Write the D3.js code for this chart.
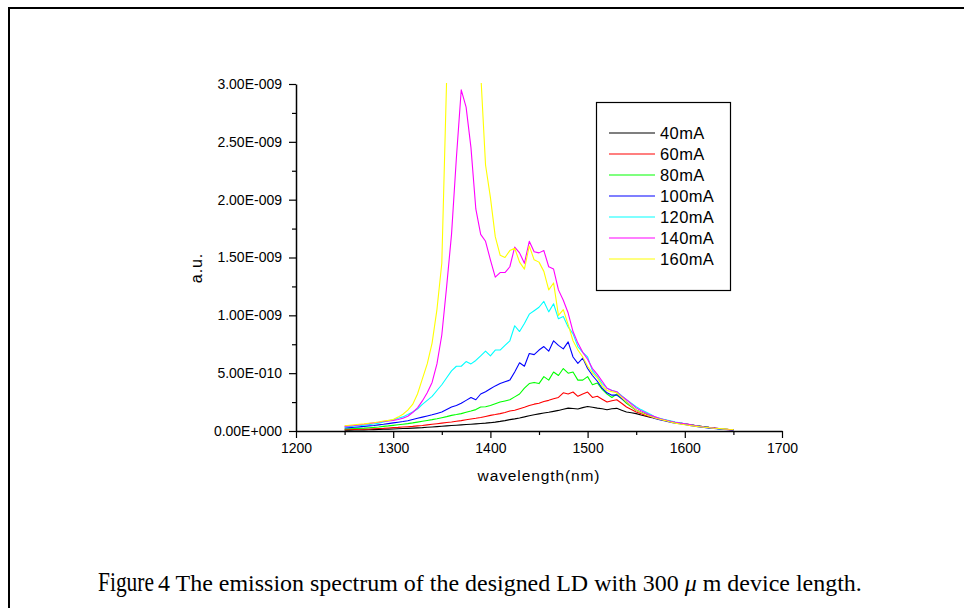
<!DOCTYPE html>
<html>
<head>
<meta charset="utf-8">
<title>emission spectrum</title>
<script src="https://d3js.org/d3.v7.min.js"></script>
<style>
  body { margin: 0; background: #fff; }
  svg { display: block; }
</style>
</head>
<body>
<div id="chart"></div>
<script>

// wavelength grid (nm), read every 5 nm
var wavelength = [1250,1255,1260,1265,1270,1275,1280,1285,1290,1295,
  1300,1305,1310,1315,1320,1325,1330,1335,1340,1345,
  1350,1355,1360,1365,1370,1375,1380,1385,1390,1395,
  1400,1405,1410,1415,1420,1425,1430,1435,1440,1445,
  1450,1455,1460,1465,1470,1475,1480,1485,1490,1495,
  1500,1505,1510,1515,1520,1525,1530,1535,1540,1545,
  1550,1555,1560,1565,1570,1575,1580,1585,1590,1595,
  1600,1605,1610,1615,1620,1625,1630,1635,1640,1645,1650];

// intensities in units of 1e-10 a.u.
var UNIT = 1e-10;
var s40 = [0.06,0.07,0.08,0.09,0.10,0.11,0.12,0.13,0.15,0.16,
  0.17,0.19,0.21,0.23,0.25,0.27,0.29,0.32,0.35,0.38,
  0.41,0.44,0.47,0.50,0.53,0.56,0.59,0.62,0.65,0.68,
  0.72,0.77,0.83,0.90,0.98,1.05,1.13,1.22,1.32,1.40,
  1.48,1.55,1.62,1.70,1.78,1.88,1.98,1.95,1.90,2.02,
  2.12,2.05,1.98,1.92,1.84,1.92,1.96,1.80,1.64,1.58,
  1.50,1.38,1.27,1.18,1.10,1.00,0.92,0.82,0.74,0.68,
  0.63,0.56,0.49,0.43,0.37,0.31,0.26,0.21,0.17,0.13,0.10];
var s60 = [0.12,0.13,0.14,0.15,0.16,0.17,0.19,0.21,0.23,0.26,
  0.29,0.31,0.34,0.37,0.40,0.44,0.48,0.53,0.58,0.63,
  0.68,0.73,0.78,0.84,0.90,0.97,1.04,1.10,1.17,1.26,
  1.35,1.42,1.50,1.60,1.73,1.80,1.93,2.05,2.20,2.32,
  2.40,2.55,2.65,2.78,2.90,3.30,3.20,3.37,3.00,3.20,
  3.37,2.90,3.00,2.75,2.50,2.62,2.70,2.40,2.07,1.85,
  1.64,1.50,1.35,1.22,1.10,1.00,0.90,0.82,0.74,0.66,
  0.60,0.53,0.46,0.40,0.35,0.29,0.24,0.19,0.15,0.12,0.10];
var s80 = [0.17,0.19,0.21,0.23,0.25,0.28,0.31,0.35,0.40,0.44,
  0.49,0.54,0.59,0.64,0.70,0.77,0.84,0.91,0.98,1.06,
  1.15,1.24,1.35,1.42,1.50,1.62,1.73,1.85,2.07,2.10,
  2.20,2.35,2.50,2.60,2.70,2.95,3.20,3.70,4.10,4.20,
  4.10,4.70,4.40,5.10,4.80,5.40,5.00,5.10,4.40,4.40,
  4.70,4.00,4.15,3.60,3.20,2.90,3.20,2.80,2.40,2.10,
  1.80,1.62,1.44,1.30,1.16,1.04,0.94,0.85,0.76,0.68,
  0.61,0.54,0.47,0.41,0.35,0.29,0.24,0.20,0.16,0.13,0.11];
var s100 = [0.26,0.29,0.32,0.36,0.40,0.44,0.48,0.53,0.58,0.64,
  0.70,0.76,0.82,0.89,1.00,1.10,1.20,1.30,1.40,1.52,
  1.64,1.85,2.07,2.20,2.40,2.65,2.90,2.70,3.20,3.40,
  3.66,3.90,4.10,4.25,4.40,5.10,5.90,5.60,6.70,6.60,
  7.00,7.30,6.90,7.80,7.40,7.10,7.70,6.40,5.85,6.30,
  5.40,4.80,4.30,3.70,3.30,3.10,3.10,2.80,2.50,2.15,
  1.80,1.60,1.42,1.26,1.07,0.96,0.86,0.76,0.68,0.62,
  0.56,0.48,0.41,0.35,0.30,0.25,0.21,0.17,0.14,0.11,0.09];
var s120 = [0.35,0.38,0.42,0.46,0.50,0.55,0.61,0.68,0.78,0.88,
  0.98,1.10,1.22,1.42,1.64,1.90,2.30,2.65,3.00,3.50,
  4.00,4.60,5.20,5.60,5.60,6.00,5.80,6.10,6.50,6.90,
  6.50,7.00,7.00,7.40,7.80,9.10,8.60,9.30,10.1,10.4,
  10.7,11.2,10.3,11.0,9.70,9.90,9.00,8.40,7.30,6.80,
  6.40,5.20,4.70,4.10,3.70,3.50,3.40,3.05,2.70,2.40,
  2.10,1.85,1.64,1.42,1.20,1.08,0.98,0.88,0.78,0.70,
  0.62,0.54,0.47,0.40,0.34,0.29,0.24,0.20,0.16,0.13,0.11];
var s140 = [0.40,0.44,0.48,0.53,0.58,0.64,0.70,0.76,0.82,0.87,
  0.92,1.00,1.10,1.28,1.60,2.00,2.60,3.30,4.20,5.80,
  8.30,12.5,17.0,23.6,29.5,28.0,24.5,19.2,17.0,16.4,
  14.8,13.3,13.7,13.7,14.2,15.9,15.4,14.5,16.4,15.5,
  15.4,15.6,14.2,14.0,12.2,11.3,10.2,8.60,7.60,6.80,
  6.20,5.40,4.90,4.30,3.70,3.50,3.40,3.00,2.70,2.35,
  2.00,1.75,1.55,1.35,1.20,1.05,0.95,0.85,0.75,0.68,
  0.62,0.55,0.48,0.41,0.35,0.30,0.25,0.21,0.17,0.14,0.12];
var s160 = [0.46,0.50,0.54,0.58,0.62,0.67,0.72,0.78,0.86,0.92,
  1.00,1.20,1.45,1.80,2.30,3.20,4.50,5.80,7.60,10.5,
  14.5,30.5,38.0,40.0,40.0,40.0,40.0,38.0,31.0,23.0,
  20.2,16.8,15.2,15.0,15.6,15.8,14.6,14.0,16.0,14.8,
  14.6,13.8,12.2,12.8,10.0,10.5,9.20,7.80,7.00,6.40,
  5.60,5.00,4.60,3.90,3.50,3.40,3.30,2.90,2.50,2.15,
  1.80,1.60,1.40,1.25,1.10,1.00,0.90,0.78,0.68,0.60,
  0.54,0.48,0.42,0.37,0.32,0.28,0.24,0.21,0.18,0.15,0.13];

var seriesNames = ["40mA","60mA","80mA","100mA","120mA","140mA","160mA"];
var seriesValues = [s40, s60, s80, s100, s120, s140, s160];
var colors = ["#000000","#ff0000","#00ff00","#0000ff","#00ffff","#ff00ff","#ffff00"];

var xTicks = [1200,1300,1400,1500,1600,1700];
var xMinor = [1250,1350,1450,1550,1650];
var yTicks = [0,5,10,15,20,25,30];          // x 1e-10
var yMinor = [2.5,7.5,12.5,17.5,22.5,27.5];

var width = 964, height = 608;

var svg = d3.select("#chart").append("svg")
  .attr("width", width)
  .attr("height", height);

// page frame (left and top edge only)
svg.append("path")
  .attr("d", "M9,608 L9,8 L964,8")
  .attr("fill", "none")
  .attr("stroke", "#000")
  .attr("stroke-width", 2);

var x = d3.scaleLinear().domain([1200, 1700]).range([296, 782]);
var y = d3.scaleLinear().domain([0, 30]).range([431, 84]);

// 1.00E-009 style labels
function sci(v) {
  if (v === 0) return "0.00E+000";
  var p = Math.floor(Math.log10(v));
  var m = v / Math.pow(10, p);
  var e = p + Math.round(Math.log10(UNIT));
  return m.toFixed(2) + "E" + (e < 0 ? "-" : "+") + String(Math.abs(e)).padStart(3, "0");
}

var axisFont = "'Liberation Sans', Arial, sans-serif";

// minor ticks
svg.append("g")
  .attr("transform", "translate(0,431)")
  .call(d3.axisBottom(x).tickValues(xMinor).tickSize(4).tickFormat(""))
  .call(function(g) { g.select(".domain").remove(); });
svg.append("g")
  .attr("transform", "translate(296,0)")
  .call(d3.axisLeft(y).tickValues(yMinor).tickSize(4).tickFormat(""))
  .call(function(g) { g.select(".domain").remove(); });

// clip for the curves
svg.append("clipPath").attr("id", "plotclip")
  .append("rect").attr("x", 296).attr("y", 83).attr("width", 486).attr("height", 348);

var line = d3.line()
  .x(function(d) { return x(d[0]); })
  .y(function(d) { return y(d[1]); });

var curves = svg.append("g").attr("clip-path", "url(#plotclip)");
seriesValues.forEach(function(vals, i) {
  var pts = wavelength.map(function(w, j) { return [w, vals[j]]; });
  curves.append("path")
    .datum(pts)
    .attr("d", line)
    .attr("fill", "none")
    .attr("stroke", colors[i])
    .attr("stroke-width", 1.1)
    .attr("stroke-linejoin", "round");
});

// major axes
var xAxis = svg.append("g")
  .attr("transform", "translate(0,431)")
  .call(d3.axisBottom(x).tickValues(xTicks).tickSize(7).tickSizeOuter(0).tickPadding(5).tickFormat(d3.format("d")));
var yAxis = svg.append("g")
  .attr("transform", "translate(296,0)")
  .call(d3.axisLeft(y).tickValues(yTicks).tickSize(7).tickSizeOuter(0).tickPadding(7).tickFormat(sci));

[xAxis, yAxis].forEach(function(g) {
  g.selectAll("text").attr("font-family", axisFont).attr("font-size", 14).attr("fill", "#000");
  g.select(".domain").attr("stroke-width", 1.5);
  g.attr("font-family", null).attr("font-size", null);
});
svg.selectAll(".tick line").attr("stroke", "#000").attr("stroke-width", 1.2);

// axis titles
svg.append("text")
  .attr("transform", "translate(202,268) rotate(-90)")
  .attr("text-anchor", "middle")
  .attr("font-family", axisFont)
  .attr("font-size", 16)
  .attr("letter-spacing", 0.9)
  .text("a.u.");

svg.append("text")
  .attr("x", 539)
  .attr("y", 481)
  .attr("text-anchor", "middle")
  .attr("font-family", axisFont)
  .attr("font-size", 15.5)
  .attr("letter-spacing", 0.9)
  .text("wavelength(nm)");

// legend
var legend = svg.append("g");
legend.append("rect")
  .attr("x", 596.5).attr("y", 102.5)
  .attr("width", 134).attr("height", 188)
  .attr("fill", "none")
  .attr("stroke", "#000")
  .attr("stroke-width", 1.2);

seriesNames.forEach(function(name, i) {
  var ly = 133 + i * 21;
  legend.append("line")
    .attr("x1", 609).attr("x2", 655)
    .attr("y1", ly).attr("y2", ly)
    .attr("stroke", colors[i])
    .attr("stroke-width", 1.1);
  legend.append("text")
    .attr("x", 660).attr("y", ly)
    .attr("dy", "0.36em")
    .attr("font-family", axisFont)
    .attr("font-size", 16.5)
    .attr("letter-spacing", 0.4)
    .text(name);
});

// caption, fitted to the width it has in the figure
var serif = "'Liberation Serif', 'Times New Roman', serif";
function fitText(node, x0, baseline, targetWidth) {
  var w = node.node().getBBox().width;
  node.attr("transform", "translate(" + x0 + "," + baseline + ") scale(" + (targetWidth / w) + ",1)");
}

var fig = svg.append("text")
  .attr("font-family", serif)
  .attr("font-size", 27)
  .text("Figure");
fitText(fig, 98, 591, 56);

var cap = svg.append("text")
  .attr("font-family", serif)
  .attr("font-size", 23);
cap.append("tspan").text("4 The emission spectrum of the designed LD with 300 ");
cap.append("tspan").attr("font-style", "italic").text("\u03bc");
cap.append("tspan").text(" m device length.");
fitText(cap, 158, 591, 704);

</script>
</body>
</html>
